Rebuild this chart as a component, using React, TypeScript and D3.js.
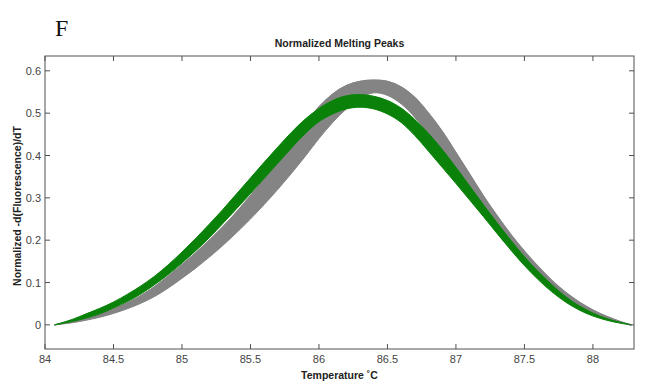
import React from "react";
import * as d3 from "d3";

const temps = [84.07,84.2,84.3,84.4,84.5,84.6,84.7,84.8,84.9,85.0,85.1,85.2,85.3,85.4,85.5,85.6,85.7,85.8,85.9,86.0,86.1,86.2,86.3,86.4,86.5,86.6,86.7,86.8,86.9,87.0,87.1,87.2,87.3,87.4,87.5,87.6,87.7,87.8,87.9,88.0,88.1,88.2,88.28];

const grayUpper = [0,0.009,0.017,0.027,0.038,0.052,0.069,0.09,0.115,0.142,0.17,0.2,0.232,0.267,0.305,0.345,0.388,0.43,0.475,0.515,0.545,0.565,0.575,0.578,0.575,0.562,0.537,0.5,0.457,0.407,0.356,0.305,0.258,0.214,0.174,0.138,0.105,0.077,0.054,0.035,0.02,0.008,0];
const grayLower = [0,0.005,0.011,0.018,0.027,0.038,0.051,0.067,0.087,0.11,0.134,0.16,0.188,0.218,0.25,0.284,0.32,0.358,0.398,0.44,0.478,0.51,0.535,0.548,0.542,0.522,0.49,0.45,0.41,0.368,0.322,0.278,0.235,0.194,0.155,0.12,0.09,0.063,0.042,0.026,0.014,0.005,0];
const greenUpper = [0,0.013,0.026,0.039,0.054,0.072,0.092,0.115,0.142,0.172,0.204,0.238,0.273,0.31,0.347,0.384,0.42,0.455,0.486,0.511,0.53,0.541,0.544,0.54,0.53,0.512,0.485,0.452,0.414,0.372,0.328,0.284,0.241,0.2,0.161,0.126,0.095,0.067,0.045,0.028,0.015,0.006,0];
const greenLower = [0,0.008,0.016,0.026,0.04,0.055,0.073,0.095,0.119,0.146,0.175,0.206,0.24,0.275,0.31,0.346,0.382,0.418,0.452,0.48,0.498,0.51,0.514,0.51,0.498,0.478,0.447,0.41,0.372,0.334,0.295,0.256,0.216,0.177,0.14,0.107,0.078,0.054,0.035,0.021,0.011,0.004,0];

const xTicks = [84, 84.5, 85, 85.5, 86, 86.5, 87, 87.5, 88];
const yTicks = [0, 0.1, 0.2, 0.3, 0.4, 0.5, 0.6];

const W = 656, H = 384;
const L = 45, R = 634, T = 56, B = 349;

export default function App() {
  const x = d3.scaleLinear().domain([84, 88.3]).range([L, R]);
  const y = d3.scaleLinear().domain([-0.057, 0.635]).range([B, T]);

  const band = (lo: number[], hi: number[]) =>
    d3.area<number>()
      .x((_, i) => x(temps[i]))
      .y0((_, i) => y(lo[i]))
      .y1((_, i) => y(hi[i]))
      .curve(d3.curveCatmullRom)(temps) || "";
  const line = (v: number[]) =>
    d3.line<number>()
      .x((_, i) => x(temps[i]))
      .y((_, i) => y(v[i]))
      .curve(d3.curveCatmullRom)(temps) || "";

  const gray = "#848484";
  const green = "#0a820a";
  const axisColor = "#505050";
  const textColor = "#444";
  const tl = 5;

  return (
    <svg width={W} height={H} style={{ position: "absolute", left: 0, top: 0, background: "#fff" }}
      fontFamily="'Liberation Sans', Arial, sans-serif">
      <rect x={0} y={0} width={W} height={H} fill="#fff" />
      <text x={55} y={36} fontFamily="'Liberation Serif', 'Times New Roman', serif" fontSize={24} fill="#111">F</text>
      <text x={(L + R) / 2} y={47} textAnchor="middle" fontSize={10.5} fontWeight="bold" fill="#222">Normalized Melting Peaks</text>

      <g>
        <path d={band(grayLower, grayUpper)} fill={gray} stroke={gray} strokeWidth={1} />
        <path d={line(grayUpper)} fill="none" stroke={gray} strokeWidth={1.2} />
        <path d={band(greenLower, greenUpper)} fill={green} stroke={green} strokeWidth={1} />
      </g>

      <rect x={L} y={T} width={R - L} height={B - T} fill="none" stroke={axisColor} strokeWidth={1} />
      {xTicks.map(t => (
        <g key={"x" + t}>
          <line x1={x(t)} x2={x(t)} y1={B} y2={B - tl} stroke={axisColor} />
          <line x1={x(t)} x2={x(t)} y1={T} y2={T + tl} stroke={axisColor} />
          <text x={x(t)} y={363} textAnchor="middle" fontSize={11} fill={textColor}>{t}</text>
        </g>
      ))}
      {yTicks.map(t => (
        <g key={"y" + t}>
          <line x1={L} x2={L + tl} y1={y(t)} y2={y(t)} stroke={axisColor} />
          <line x1={R} x2={R - tl} y1={y(t)} y2={y(t)} stroke={axisColor} />
          <text x={41} y={y(t) + 4} textAnchor="end" fontSize={11} fill={textColor}>{t}</text>
        </g>
      ))}
      <text x={(L + R) / 2} y={379} textAnchor="middle" fontSize={10.5} fontWeight="bold" fill="#222">Temperature ˚C</text>
      <text transform={`translate(21, 206) rotate(-90)`} textAnchor="middle" fontSize={10.5} fontWeight="bold" fill="#222">Normalized -d(Fluorescence)/dT</text>
    </svg>
  );
}
